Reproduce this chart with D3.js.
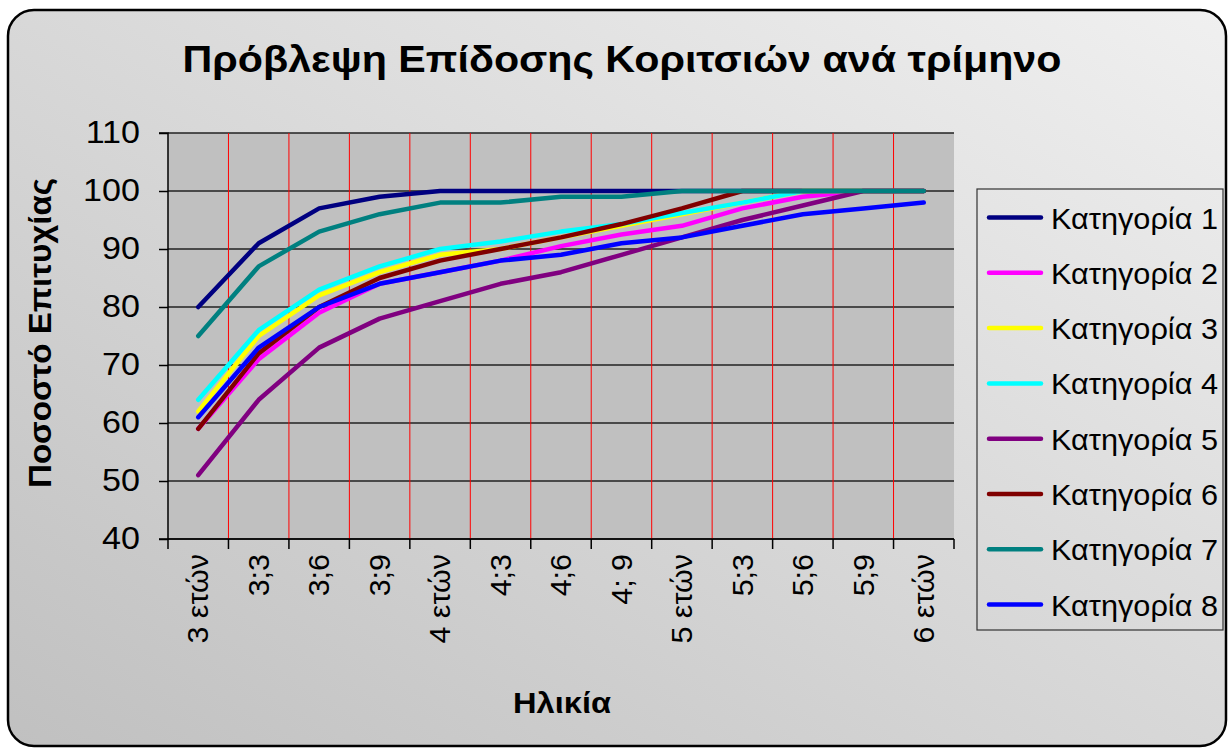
<!DOCTYPE html>
<html><head><meta charset="utf-8">
<script src="https://cdn.jsdelivr.net/npm/d3@7"></script>
<style>body{margin:0;background:#fff}svg{display:block}text{font-family:"Liberation Sans",Arial,sans-serif}</style>
</head><body><svg id="c" width="1232" height="751"></svg>
<script>
const categories = ["3 ετών","3;3","3;6","3;9","4 ετών","4;3","4;6","4; 9","5 ετών","5;3","5;6","5;9","6 ετών"];
const seriesNames = ["Κατηγορία 1","Κατηγορία 2","Κατηγορία 3","Κατηγορία 4","Κατηγορία 5","Κατηγορία 6","Κατηγορία 7","Κατηγορία 8"];
const cat1 = [80, 91, 97, 99, 100, 100, 100, 100, 100, 100, 100, 100, 100];
const cat2 = [59, 71, 79, 84, 86, 88, 90.5, 92.5, 94, 97, 99, 100, 100];
const cat3 = [62, 75, 82, 86, 89, 90, 92, 94, 96, 98, 100, 100, 100];
const cat4 = [64, 76, 83, 87, 90, 91.3, 93, 94.3, 96.2, 98, 100, 100, 100];
const cat5 = [51, 64, 73, 78, 81, 84, 86, 89, 92, 95, 97.5, 100, 100];
const cat6 = [59, 72, 80, 85, 88, 90, 92, 94.3, 97, 100, 100, 100, 100];
const cat7 = [75, 87, 93, 96, 98, 98, 99, 99, 100, 100, 100, 100, 100];
const cat8 = [61, 73, 80, 84, 86, 88, 89, 91, 92, 94, 96, 97, 98];
const yTicks = [40, 50, 60, 70, 80, 90, 100, 110];
const colors = ["#000080","#ff00ff","#ffff00","#00ffff","#800080","#800000","#008080","#0000ff"];
const title = "Πρόβλεψη Επίδοσης Κοριτσιών ανά τρίμηνο";
const xTitle = "Ηλικία";
const yTitle = "Ποσοστό Επιτυχίας";

const series = [cat1,cat2,cat3,cat4,cat5,cat6,cat7,cat8];
const svg = d3.select("#c");
const defs = svg.append("defs");
const g = defs.append("linearGradient").attr("id","bg").attr("x1","1").attr("y1","0").attr("x2","0").attr("y2","1");
g.append("stop").attr("offset","0").attr("stop-color","#f0f0f0");
g.append("stop").attr("offset","1").attr("stop-color","#c0c0c0");

svg.append("rect").attr("x",8).attr("y",10).attr("width",1218).attr("height",736).attr("rx",26).attr("ry",26)
  .attr("fill","url(#bg)").attr("stroke","#000").attr("stroke-width",2.5);

const L = 168, R = 954, T = 133, B = 539;
const x = d3.scaleBand().domain(categories).range([L, R]).paddingInner(0).paddingOuter(0);
const y = d3.scaleLinear().domain([40, 110]).range([B, T]);

svg.append("rect").attr("x",L).attr("y",T).attr("width",R-L).attr("height",B-T).attr("fill","#c0c0c0");

// horizontal gridlines
svg.append("g").selectAll("line").data(yTicks).join("line")
  .attr("x1",L).attr("x2",R).attr("y1",d=>y(d)).attr("y2",d=>y(d))
  .attr("stroke","#222").attr("stroke-width",1.5);
// vertical red gridlines at category boundaries
svg.append("g").selectAll("line").data(categories.slice(1)).join("line")
  .attr("x1",d=>x(d)).attr("x2",d=>x(d)).attr("y1",T).attr("y2",B)
  .attr("stroke","#ff0000").attr("stroke-width",1);

// y axis
const ya = svg.append("g").attr("transform",`translate(${L},0)`)
  .call(d3.axisLeft(y).tickValues(yTicks).tickSize(9).tickPadding(12));
ya.select(".domain").attr("stroke","#000").attr("stroke-width",1.5).attr("d",`M-9,${T}H0V${B}H-9`);
ya.selectAll(".tick line").attr("stroke","#000").attr("stroke-width",1.5);
ya.selectAll(".tick text").attr("font-size",31).attr("fill","#000").attr("font-family","Liberation Sans, Arial, sans-serif")
  .attr("transform","scale(1.1,1)").attr("x",-28/1.1);

// x axis line and ticks at boundaries
svg.append("line").attr("x1",L).attr("x2",R).attr("y1",B).attr("y2",B).attr("stroke","#000").attr("stroke-width",1.5);
const bounds = categories.map(c=>x(c)).concat([R]);
svg.append("g").selectAll("line").data(bounds).join("line")
  .attr("x1",d=>d).attr("x2",d=>d).attr("y1",B).attr("y2",B+10).attr("stroke","#000").attr("stroke-width",1.5);
svg.append("g").selectAll("text").data(categories).join("text")
  .attr("transform",d=>`translate(${x(d)+x.bandwidth()/2},${B+15}) rotate(-90) scale(1.05,1)`)
  .attr("text-anchor","end").attr("dominant-baseline","central")
  .attr("font-size",29).attr("fill","#000").text(d=>d);

// lines
const line = d3.line().x((d,i)=>x(categories[i])+x.bandwidth()/2).y(d=>y(d));
svg.append("g").selectAll("path").data(series).join("path")
  .attr("d",d=>line(d)).attr("fill","none").attr("stroke",(d,i)=>colors[i])
  .attr("stroke-width",4.5).attr("stroke-linejoin","round").attr("stroke-linecap","round");

// titles
svg.append("text").attr("x",622).attr("y",72).attr("text-anchor","middle").attr("font-size",37).attr("font-weight","bold")
  .attr("textLength",879).attr("lengthAdjust","spacingAndGlyphs").text(title);
svg.append("text").attr("x",562).attr("y",713).attr("text-anchor","middle").attr("font-size",30).attr("font-weight","bold")
  .attr("textLength",98).attr("lengthAdjust","spacingAndGlyphs").text(xTitle);
svg.append("text").attr("transform",`translate(51,333) rotate(-90)`).attr("text-anchor","middle").attr("font-size",31).attr("font-weight","bold")
  .attr("textLength",310).attr("lengthAdjust","spacingAndGlyphs").text(yTitle);

// legend
svg.append("rect").attr("x",977).attr("y",189).attr("width",246).attr("height",441).attr("fill","none").attr("stroke","#333").attr("stroke-width",1.2);
const lg = svg.append("g").selectAll("g").data(seriesNames).join("g")
  .attr("transform",(d,i)=>`translate(0,${217.5+i*55.3})`);
lg.append("line").attr("x1",989).attr("x2",1041).attr("y1",0).attr("y2",0)
  .attr("stroke",(d,i)=>colors[i]).attr("stroke-width",4.5).attr("stroke-linecap","round");
lg.append("text").attr("x",1051).attr("y",1).attr("dominant-baseline","central").attr("font-size",29).attr("fill","#000")
  .attr("textLength",167).attr("lengthAdjust","spacingAndGlyphs").text(d=>d);
</script></body></html>
